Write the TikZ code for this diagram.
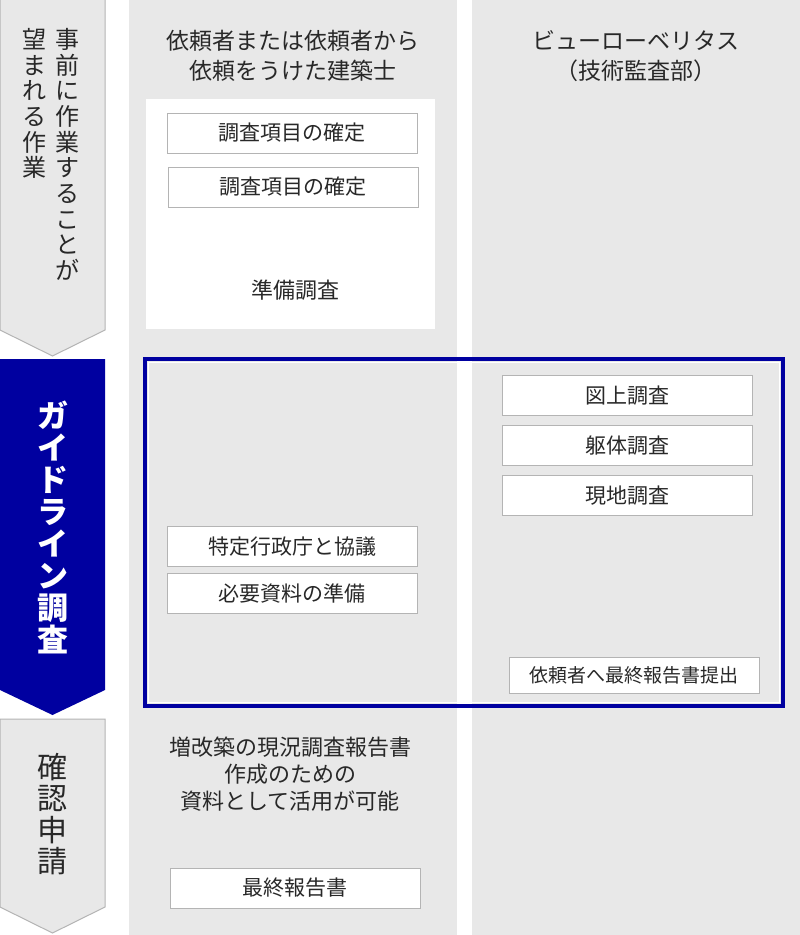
\documentclass[tikz,border=0pt]{standalone}
\usepackage{fontspec}
\setmainfont{Noto Sans CJK JP}
\definecolor{colgray}{RGB}{232,232,232}
\definecolor{linegray}{RGB}{180,180,180}
\definecolor{guidenavy}{RGB}{0,0,160}
\definecolor{textdark}{RGB}{40,40,40}
\tikzset{
  stepboxnode/.style={draw=linegray, line width=1pt, fill=white, minimum width=250pt, minimum height=40pt, inner sep=0pt, text=textdark, font=\fontsize{21}{24}\selectfont},
  coltext/.style={align=center, text=textdark, inner sep=0pt},
  vtext/.style={align=center, inner sep=0pt, anchor=north}
}

\begin{document}
\begin{tikzpicture}[x=1pt, y=-1pt]
		%%%%% START %%%%%
		\useasboundingbox (0, 0) rectangle (800, 935);
		\fill[white] (0, 0) rectangle (800, 935);
		
		% columns
		\fill[colgray] (129, 0) rectangle (457, 935);
		\fill[colgray] (472, 0) rectangle (800, 935);
		\fill[white] (146, 99) rectangle (435, 329);
		
		% phase arrows
		\draw[fill=colgray, draw=linegray, line width=1pt] (0, -2) -- (105, -2) -- (105, 330) -- (52.5, 356) -- (0, 330) -- cycle;
		\fill[guidenavy] (0, 359) -- (105, 359) -- (105, 690) -- (52.5, 715) -- (0, 690) -- cycle;
		\draw[fill=colgray, draw=linegray, line width=1pt] (0, 719) -- (105, 719) -- (105, 907) -- (52.5, 933) -- (0, 907) -- cycle;
		
		\node[vtext, text=textdark, font=\fontsize{24}{25.7}\selectfont] (pre1) at (67, 28) {事\\前\\に\\作\\業\\す\\る\\こ\\と\\が};
		\node[vtext, text=textdark, font=\fontsize{24}{25.7}\selectfont] (pre2) at (35, 28) {望\\ま\\れ\\る\\作\\業};
		\node[vtext, text=white, font=\bfseries\fontsize{31}{32}\selectfont] (guide) at (52.5, 401) {ガ\\イ\\ド\\ラ\\イ\\ン\\調\\査};
		\node[vtext, text=textdark, font=\fontsize{30}{31.5}\selectfont] (confirm) at (52.5, 753) {確\\認\\申\\請};
		
		% headers
		\node[coltext, font=\fontsize{23}{30}\selectfont] (hdrclient) at (293, 56) {依頼者または依頼者から\\依頼をうけた建築士};
		\node[coltext, font=\fontsize{23}{30}\selectfont] (hdrbv) at (636, 56) {ビューローベリタス\\（技術監査部）};
		
		% preparation
		\node[stepboxnode] (item1) at (292, 133) {調査項目の確定};
		\node[stepboxnode] (item2) at (293, 187) {調査項目の確定};
		\node[coltext, font=\fontsize{22}{24}\selectfont] (prep) at (295, 290) {準備調査};
		
		% guideline survey frame
		\draw[guidenavy, line width=4.5pt] (145, 359) rectangle (783, 706);
		\draw[white, line width=1pt] (148.5, 362.5) rectangle (779.5, 702.5);
		
		\node[stepboxnode] (consult) at (292, 546.5) {特定行政庁と協議};
		\node[stepboxnode] (docs) at (292, 593) {必要資料の準備};
		
		\node[stepboxnode] (drawing) at (627.5, 395.5) {図上調査};
		\node[stepboxnode] (body) at (627.5, 445.5) {躯体調査};
		\node[stepboxnode] (site) at (627.5, 495.5) {現地調査};
		\node[stepboxnode, minimum height=36pt, font=\fontsize{19}{22}\selectfont] (submit) at (634, 675) {依頼者へ最終報告書提出};
		
		% confirmation application
		\node[coltext, font=\fontsize{22}{27}\selectfont] (usage) at (290, 774) {増改築の現況調査報告書\\作成のための\\資料として活用が可能};
		\node[stepboxnode] (final) at (295, 888) {最終報告書};
		
		%%%%% END %%%%%
\end{tikzpicture}
\end{document}
